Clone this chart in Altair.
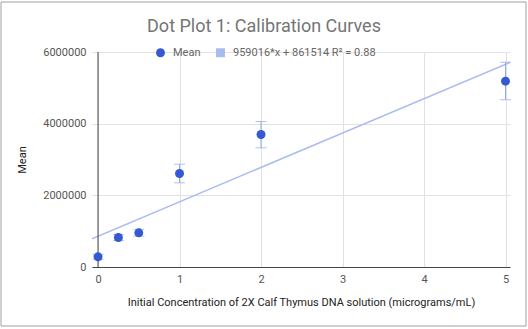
import altair as alt
import pandas as pd

conc = [0, 0.25, 0.5, 1, 2, 5]
mean = [285000, 823000, 954000, 2609000, 3698000, 5185000]
err_lo = [215000, 738000, 860000, 2350000, 3326000, 4668000]
err_hi = [355000, 908000, 1050000, 2869000, 4060000, 5715000]
series = ["Mean", "959016*x + 861514 R² = 0.88"]
x_ticks = [0, 1, 2, 3, 4, 5]
y_ticks = [0, 2000000, 4000000, 6000000]

DOT = "#3459d2"
LIGHT = "#a9bcef"
ERR = "#8ea8ea"
X_DOM = [-0.074, 5.055]

df = pd.DataFrame({"conc": conc, "mean": mean, "lo": err_lo, "hi": err_hi,
                   "series": ["Mean"] * len(conc)})
axis_df = pd.DataFrame({"conc": [0], "mean": [0], "top": [6000000]})

xs = alt.Scale(domain=X_DOM, nice=False, zero=False)
ys = alt.Scale(domain=[0, 6000000], nice=False)

x_axis = alt.Axis(values=x_ticks, title="Initial Concentration of 2X Calf Thymus DNA solution (micrograms/mL)",
                  grid=True, gridColor="#e2e2e2", ticks=False, domainColor="#444", labelPadding=6,
                  labelColor="#555", labelFontSize=11, titleFontSize=11, titleColor="#222",
                  titleFontWeight="normal", titlePadding=12, labelFlush=False)
y_axis = alt.Axis(values=y_ticks, format="d", title="Mean", grid=True, gridColor="#e2e2e2",
                  domain=False, ticks=False, labelPadding=6, labelColor="#555", labelFontSize=11,
                  titleFontSize=11, titleColor="#222", titleFontWeight="normal", titlePadding=15)

X = alt.X("conc:Q", scale=xs, axis=x_axis)
Y = alt.Y("mean:Q", scale=ys, axis=y_axis)

base = alt.Chart(df)

trend = base.transform_regression("conc", "mean", extent=X_DOM).mark_line(
    color=LIGHT, strokeWidth=1.5, clip=True).encode(x=X, y=Y)

yaxis_rule = alt.Chart(axis_df).mark_rule(color="#444", strokeWidth=1).encode(
    x=X, y=Y, y2="top:Q")

err_rule = base.mark_rule(color=ERR, strokeWidth=1).encode(
    x=X, y=alt.Y("lo:Q", scale=ys, axis=y_axis), y2="hi:Q")
cap_lo = base.mark_tick(orient="horizontal", color=ERR, size=11, thickness=1).encode(
    x=X, y=alt.Y("lo:Q", scale=ys, axis=y_axis))
cap_hi = base.mark_tick(orient="horizontal", color=ERR, size=11, thickness=1).encode(
    x=X, y=alt.Y("hi:Q", scale=ys, axis=y_axis))

leg = alt.Legend(orient="none", legendX=63, legendY=-5, direction="horizontal", title=None,
                 symbolSize=80, labelFontSize=11, labelColor="#666", columnPadding=14,
                 labelOffset=7, padding=0, symbolStrokeWidth=0, symbolOpacity=1)

points = base.mark_point(filled=True, opacity=1, size=80).encode(
    x=X, y=Y,
    color=alt.Color("series:N", scale=alt.Scale(domain=series, range=[DOT, LIGHT]), legend=leg),
    shape=alt.Shape("series:N", scale=alt.Scale(domain=series, range=["circle", "square"]), legend=leg),
)

border = alt.Chart(pd.DataFrame({"a": [0]})).mark_rect(
    filled=False, stroke="#a0a0a0", strokeWidth=1).encode(
    x=alt.value(-91), x2=alt.value(434), y=alt.value(-50), y2=alt.value(274))

chart = alt.layer(trend, yaxis_rule, err_rule, cap_lo, cap_hi, points, border).properties(
    width=418, height=215,
    autosize=alt.AutoSizeParams(type="none"),
    padding={"left": 92, "top": 52, "right": 18, "bottom": 62},
    background="white",
    title=alt.Title("Dot Plot 1: Calibration Curves", fontSize=18, color="#757575",
                    fontWeight="normal", anchor="middle", frame="group", dx=-37, offset=-48,
                    baseline="alphabetic"),
).configure(font="Roboto").configure_view(stroke=None)

chart.save("out.html", embed_options={"renderer": "svg", "actions": False})
